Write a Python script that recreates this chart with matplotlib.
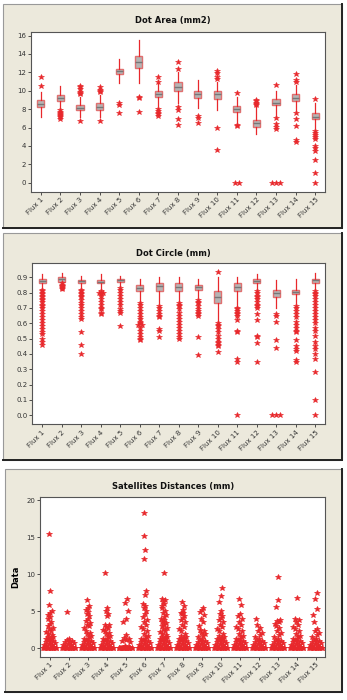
import numpy as np
import matplotlib
matplotlib.use('Agg')
import matplotlib.pyplot as plt
from matplotlib.patches import Rectangle

labels = ['Flux %d' % i for i in range(1, 16)]

# Dot Area (mm2) - box plot stats
area_q1 = [8.2, 8.9, 7.9, 7.9, 11.8, 12.5, 9.3, 10.0, 9.2, 9.1, 7.7, 6.1, 8.4, 8.9, 6.9]
area_med = [8.6, 9.2, 8.1, 8.2, 12.1, 13.1, 9.6, 10.4, 9.6, 9.6, 8.0, 6.5, 8.7, 9.2, 7.1]
area_q3 = [9.0, 9.5, 8.4, 8.7, 12.4, 13.8, 10.0, 10.9, 10.0, 10.0, 8.3, 6.8, 9.1, 9.6, 7.6]
area_lo = [7.1, 8.0, 7.2, 7.2, 10.8, 10.8, 8.3, 8.7, 8.1, 7.9, 6.6, 5.3, 7.3, 7.8, 6.0]
area_hi = [9.9, 10.5, 9.3, 9.5, 13.5, 15.5, 10.8, 12.0, 11.2, 11.0, 9.3, 8.3, 10.0, 10.6, 8.7]
area_out = [
    [10.5, 11.5],
    [7.9, 7.7, 7.6, 7.5, 7.4, 7.3, 7.2, 6.9],
    [9.6, 9.8, 9.9, 10.2, 10.4, 10.5, 6.7],
    [9.9, 10.0, 10.1, 10.4, 6.7],
    [8.4, 8.7, 7.6],
    [9.2, 9.3, 7.7],
    [11.0, 11.5, 8.0, 7.8, 7.6, 7.5, 7.3],
    [12.4, 13.1, 8.2, 7.9, 6.9, 6.3],
    [7.3, 7.0, 6.5],
    [11.3, 11.5, 11.9, 12.1, 5.9, 3.6],
    [9.8, 6.3, 6.2, 0.0, 0.0],
    [8.5, 8.6, 8.7, 8.9, 9.0],
    [10.6, 7.0, 6.4, 6.1, 5.8, 0.0, 0.0, 0.0],
    [11.0, 11.2, 11.8, 7.6, 6.9, 6.2, 4.6, 4.4],
    [9.1, 5.6, 5.4, 5.2, 5.0, 4.8, 4.0, 3.8, 3.5, 2.5, 1.1, 0.0],
]

# Dot Circle (mm)
circ_q1 = [0.86, 0.87, 0.86, 0.86, 0.87, 0.81, 0.81, 0.81, 0.82, 0.73, 0.81, 0.86, 0.77, 0.79, 0.865]
circ_med = [0.875, 0.89, 0.875, 0.87, 0.88, 0.83, 0.84, 0.835, 0.835, 0.77, 0.835, 0.875, 0.80, 0.805, 0.88]
circ_q3 = [0.89, 0.90, 0.885, 0.885, 0.89, 0.85, 0.86, 0.86, 0.85, 0.81, 0.86, 0.89, 0.82, 0.82, 0.89]
circ_lo = [0.83, 0.82, 0.83, 0.82, 0.84, 0.74, 0.73, 0.74, 0.77, 0.61, 0.71, 0.82, 0.70, 0.73, 0.82]
circ_hi = [0.92, 0.93, 0.91, 0.92, 0.91, 0.89, 0.90, 0.90, 0.89, 0.90, 0.90, 0.92, 0.88, 0.89, 0.93]
circ_out = [
    [0.82, 0.81, 0.80, 0.79, 0.78, 0.77, 0.76, 0.75, 0.74, 0.72, 0.71, 0.70, 0.68, 0.66, 0.64,
     0.62, 0.60, 0.58, 0.56, 0.54, 0.53, 0.50, 0.48, 0.46],
    [0.86, 0.85, 0.845, 0.84, 0.835, 0.83, 0.825],
    [0.82, 0.81, 0.80, 0.79, 0.78, 0.77, 0.75, 0.73, 0.72, 0.70, 0.68, 0.66, 0.64, 0.63,
     0.54, 0.46, 0.40],
    [0.81, 0.80, 0.80, 0.79, 0.78, 0.76, 0.74, 0.72, 0.70, 0.69, 0.67, 0.66],
    [0.83, 0.82, 0.80, 0.78, 0.76, 0.74, 0.72, 0.69, 0.68, 0.67, 0.58],
    [0.73, 0.72, 0.70, 0.68, 0.66, 0.64, 0.63, 0.61, 0.60, 0.59, 0.59, 0.57, 0.55, 0.53,
     0.51, 0.50, 0.49],
    [0.71, 0.70, 0.68, 0.66, 0.65, 0.64, 0.56, 0.55, 0.51],
    [0.73, 0.72, 0.71, 0.69, 0.67, 0.65, 0.63, 0.61, 0.59, 0.57, 0.55, 0.53, 0.51, 0.50],
    [0.75, 0.74, 0.73, 0.71, 0.69, 0.68, 0.67, 0.66, 0.65, 0.51, 0.39],
    [0.935, 0.60, 0.59, 0.58, 0.56, 0.54, 0.52, 0.50, 0.48, 0.47, 0.46, 0.45, 0.41],
    [0.70, 0.69, 0.68, 0.67, 0.66, 0.65, 0.62, 0.55, 0.54, 0.37, 0.35, 0.0],
    [0.81, 0.80, 0.78, 0.77, 0.76, 0.74, 0.72, 0.71, 0.70, 0.66, 0.62, 0.52, 0.51, 0.47, 0.35],
    [0.66, 0.65, 0.61, 0.49, 0.44, 0.0, 0.0, 0.0],
    [0.71, 0.70, 0.68, 0.66, 0.64, 0.61, 0.59, 0.57, 0.55, 0.54, 0.49, 0.45, 0.43, 0.42,
     0.36, 0.35],
    [0.81, 0.80, 0.79, 0.78, 0.76, 0.74, 0.72, 0.70, 0.68, 0.66, 0.64, 0.62, 0.60, 0.57,
     0.55, 0.52, 0.48, 0.45, 0.43, 0.40, 0.37, 0.28, 0.10, 0.0],
]

# Satellites Distances (mm) - individual values
sat_vals = [
    [0, 0, 0, 0, 0, 0, 0, 0, 0, 0, 0, 0, 0.1, 0.2, 0.3, 0.4, 0.5, 0.6, 0.7, 0.8, 0.9, 1.0,
     1.1, 1.2, 1.3, 1.4, 1.5, 1.6, 1.8, 2.0, 2.2, 2.4, 2.6, 2.8, 3.0, 3.3, 3.6, 3.9, 4.2, 4.5,
     4.8, 5.0, 5.9, 7.8, 15.4],
    [0, 0, 0, 0, 0, 0, 0, 0, 0, 0, 0, 0, 0.1, 0.2, 0.3, 0.4, 0.5, 0.6, 0.7, 0.8, 0.9, 1.0,
     1.1, 1.3, 4.9],
    [0, 0, 0, 0, 0, 0, 0, 0, 0, 0, 0, 0, 0.1, 0.2, 0.3, 0.4, 0.5, 0.6, 0.7, 0.8, 0.9, 1.0,
     1.1, 1.2, 1.3, 1.5, 1.7, 1.9, 2.1, 2.4, 2.7, 3.0, 3.1, 3.4, 3.7, 4.0, 4.3, 4.6, 4.9, 5.2,
     5.5, 5.7, 6.5],
    [0, 0, 0, 0, 0, 0, 0, 0, 0, 0, 0, 0, 0.1, 0.2, 0.3, 0.4, 0.5, 0.6, 0.7, 0.8, 0.9, 1.0,
     1.1, 1.2, 1.3, 1.5, 1.7, 1.9, 2.1, 2.3, 2.5, 2.7, 2.9, 3.1, 3.2, 4.3, 4.7, 5.0, 5.4, 10.2],
    [0, 0, 0, 0, 0, 0, 0, 0, 0, 0, 0, 0, 0, 0, 0, 0.1, 0.2, 0.3, 0.8, 1.0, 1.1, 1.2, 1.4, 1.8,
     3.5, 4.0, 5.0, 6.1, 6.6],
    [0, 0, 0, 0, 0, 0, 0, 0, 0, 0, 0, 0, 0.1, 0.2, 0.3, 0.4, 0.5, 0.6, 0.7, 0.8, 0.9, 1.0,
     1.1, 1.2, 1.3, 1.5, 1.7, 2.0, 2.3, 2.6, 2.9, 3.2, 3.5, 3.8, 4.2, 4.6, 5.0, 5.4, 5.7, 6.0,
     7.2, 7.7, 12.0, 13.2, 15.1, 18.2],
    [0, 0, 0, 0, 0, 0, 0, 0, 0, 0, 0, 0, 0.1, 0.2, 0.3, 0.4, 0.5, 0.6, 0.7, 0.8, 0.9, 1.0,
     1.1, 1.2, 1.3, 1.4, 1.5, 1.6, 1.8, 2.0, 2.2, 2.4, 2.6, 2.8, 3.0, 3.2, 3.4, 3.6, 3.8, 4.0,
     4.2, 4.5, 4.8, 5.1, 5.4, 5.7, 6.0, 6.3, 6.5, 6.7, 10.1],
    [0, 0, 0, 0, 0, 0, 0, 0, 0, 0, 0, 0, 0.1, 0.2, 0.3, 0.4, 0.5, 0.6, 0.7, 0.8, 0.9, 1.0,
     1.1, 1.2, 1.3, 1.4, 1.5, 1.7, 2.0, 2.3, 2.6, 2.9, 3.2, 3.5, 3.8, 4.1, 4.4, 4.7, 4.8, 4.8,
     5.2, 5.7, 6.2],
    [0, 0, 0, 0, 0, 0, 0, 0, 0, 0, 0, 0, 0.1, 0.2, 0.3, 0.4, 0.5, 0.6, 0.7, 0.8, 0.9, 1.0,
     1.1, 1.3, 1.5, 1.7, 1.9, 2.1, 2.3, 2.5, 3.0, 3.5, 4.0, 4.5, 4.9, 5.2, 5.5],
    [0, 0, 0, 0, 0, 0, 0, 0, 0, 0, 0, 0, 0.1, 0.2, 0.3, 0.4, 0.5, 0.6, 0.7, 0.8, 0.9, 1.0,
     1.1, 1.2, 1.3, 1.4, 1.5, 1.7, 2.0, 2.3, 2.6, 2.9, 3.2, 3.5, 3.8, 4.1, 4.4, 4.7, 5.0, 6.2,
     7.1, 8.1],
    [0, 0, 0, 0, 0, 0, 0, 0, 0, 0, 0, 0, 0.1, 0.2, 0.3, 0.4, 0.5, 0.6, 0.7, 0.8, 0.9, 1.0,
     1.1, 1.2, 1.3, 1.5, 1.7, 2.0, 2.3, 2.6, 2.9, 3.2, 3.6, 4.0, 4.3, 4.6, 5.9, 6.7],
    [0, 0, 0, 0, 0, 0, 0, 0, 0, 0, 0, 0, 0.1, 0.2, 0.3, 0.4, 0.5, 0.6, 0.7, 0.8, 0.9, 1.0,
     1.1, 1.3, 1.5, 1.8, 2.1, 2.4, 2.7, 3.1, 4.0],
    [0, 0, 0, 0, 0, 0, 0, 0, 0, 0, 0, 0, 0.1, 0.2, 0.3, 0.4, 0.5, 0.6, 0.7, 0.8, 0.9, 1.0,
     1.1, 1.3, 1.5, 1.8, 2.1, 2.4, 2.7, 3.0, 3.3, 3.6, 3.7, 3.8, 5.6, 6.5, 9.6],
    [0, 0, 0, 0, 0, 0, 0, 0, 0, 0, 0, 0, 0.1, 0.2, 0.3, 0.4, 0.5, 0.6, 0.7, 0.8, 0.9, 1.0,
     1.1, 1.2, 1.3, 1.5, 1.7, 2.0, 2.3, 2.6, 2.9, 3.2, 3.5, 3.8, 4.0, 6.8],
    [0, 0, 0, 0, 0, 0, 0, 0, 0, 0, 0, 0, 0.1, 0.2, 0.3, 0.4, 0.5, 0.6, 0.7, 0.8, 0.9, 1.0,
     1.1, 1.3, 1.5, 1.8, 2.1, 2.4, 2.6, 3.5, 4.5, 5.3, 6.7, 7.5],
]

JITTER = [-0.3, 0.15, -0.05, 0.3, -0.2, 0.05, 0.22, -0.12, 0.0, -0.25, 0.1, 0.28, -0.08, 0.18, -0.16]

BG = '#ECE9DC'
RED = '#E8282C'
BOXEDGE = '#E07070'
BOXFILL = '#B4B4B4'
TICKC = '#333333'

fig = plt.figure(figsize=(3.47, 7.0), dpi=100)
W, H = 347.0, 700.0


def frame(x0, y0, x1, y1):
    # beige panel with darker bottom/right edge, pixel coords from top-left
    r = Rectangle((x0 / W, 1 - y1 / H), (x1 - x0) / W, (y1 - y0) / H,
                  transform=fig.transFigure, facecolor=BG, edgecolor='#999999', lw=0.8,
                  zorder=-5)
    fig.add_artist(r)
    fig.add_artist(plt.Line2D([x0 / W, x1 / W], [1 - y1 / H, 1 - y1 / H],
                              transform=fig.transFigure, color='#222222', lw=1.4, zorder=-4))
    fig.add_artist(plt.Line2D([x1 / W, x1 / W], [1 - y1 / H, 1 - y0 / H],
                              transform=fig.transFigure, color='#222222', lw=1.4, zorder=-4))


def make_ax(x0, y0, x1, y1):
    ax = fig.add_axes([x0 / W, 1 - y1 / H, (x1 - x0) / W, (y1 - y0) / H])
    ax.set_zorder(2)
    ax.set_facecolor('white')
    for s in ax.spines.values():
        s.set_color('#555555')
        s.set_linewidth(0.8)
    ax.tick_params(labelsize=5, colors=TICKC, length=2, width=0.6, pad=1.5)
    return ax


def set_x(ax):
    ax.set_xticks(range(1, 16))
    ax.set_xticklabels(labels, rotation=45, ha='right', rotation_mode='anchor')
    ax.set_xlim(0.5, 15.5)


def boxes(ax, q1, med, q3, lo, hi, out):
    stats = []
    for i in range(15):
        stats.append(dict(q1=q1[i], med=med[i], q3=q3[i], whislo=lo[i], whishi=hi[i],
                          fliers=[]))
    ax.bxp(stats, positions=range(1, 16), widths=0.36, patch_artist=True,
           showfliers=False,
           boxprops=dict(facecolor=BOXFILL, edgecolor=BOXEDGE, linewidth=1.0),
           medianprops=dict(color='#777777', linewidth=1.0),
           whiskerprops=dict(color=RED, linewidth=0.9),
           capprops=dict(linewidth=0))
    # outliers; equal values are set side by side
    for i in range(15):
        vals = out[i]
        xs = []
        for j, v in enumerate(vals):
            n = vals.count(v)
            k = vals[:j].count(v)
            xs.append(i + 1 + (k - (n - 1) / 2) * 0.2)
        ax.plot(xs, vals, linestyle='none', marker='*', markersize=4, color=RED,
                markeredgewidth=0.4)


# panel 1
frame(3, 4, 342, 228)
ax1 = make_ax(31, 32.3, 325, 191.7)
boxes(ax1, area_q1, area_med, area_q3, area_lo, area_hi, area_out)
set_x(ax1)
ax1.set_ylim(-0.98, 16.36)
ax1.set_yticks(range(0, 17, 2))
fig.text(173 / W, 1 - 20.7 / H, 'Dot Area (mm2)', ha='center', va='center',
         fontsize=6, fontweight='bold', color='#111111')

# panel 2
frame(3, 233, 342, 460)
ax2 = make_ax(32.3, 263.3, 325, 424.3)
boxes(ax2, circ_q1, circ_med, circ_q3, circ_lo, circ_hi, circ_out)
set_x(ax2)
ax2.set_ylim(-0.059, 0.991)
ax2.set_yticks(np.arange(0, 0.91, 0.1))
ax2.set_yticklabels(['%.1f' % v for v in np.arange(0, 0.91, 0.1)])
fig.text(173 / W, 1 - 253.3 / H, 'Dot Circle (mm)', ha='center', va='center',
         fontsize=6, fontweight='bold', color='#111111')

# panel 3
frame(5, 469.3, 342, 691.7)
ax3 = make_ax(40, 496.7, 325, 656.7)
for i, vals in enumerate(sat_vals):
    xs = [i + 1 + 1.15 * JITTER[k % len(JITTER)] / (1 + 0.4 * v) for k, v in enumerate(vals)]
    ax3.plot(xs, vals, linestyle='none', marker='*', markersize=4.2, color=RED,
             markeredgewidth=0.5)
set_x(ax3)
ax3.set_ylim(-1.12, 20.45)
ax3.set_yticks([0, 5, 10, 15, 20])
ax3.set_ylabel('Data', fontsize=6, fontweight='bold', labelpad=4)
fig.text(173 / W, 1 - 486 / H, 'Satellites Distances (mm)', ha='center', va='center',
         fontsize=6, fontweight='bold', color='#111111')

fig.savefig('out.png', dpi=100)
